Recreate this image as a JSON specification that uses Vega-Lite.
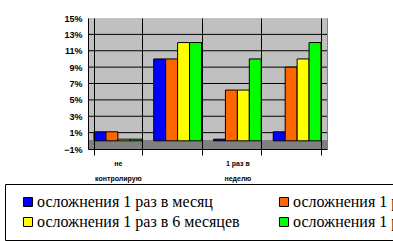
{
  "$schema": "https://vega.github.io/schema/vega-lite/v6.json",
  "autosize": "none",
  "width": 239,
  "height": 131,
  "padding": {"left": 88, "top": 18, "right": 66, "bottom": 92},
  "background": "white",
  "config": {
    "view": {"stroke": "#808080"},
    "axis": {"labelFont": "Liberation Sans", "labelFontWeight": "bold", "labelColor": "black", "domainColor": "black", "tickColor": "black", "gridColor": "black", "gridOpacity": 1, "gridWidth": 1, "title": null, "labelOverlap": false}
  },
  "datasets": {
    "bars": [
      {"cat": "не контролирую", "series": "осложнения 1 раз в месяц", "value": 0.011},
      {"cat": "не контролирую", "series": "осложнения 1 раз в 3 месяца", "value": 0.011},
      {"cat": "не контролирую", "series": "осложнения 1 раз в 6 месяцев", "value": 0.002},
      {"cat": "не контролирую", "series": "осложнения 1 раз в год", "value": 0.002},
      {"cat": "ежедневно", "series": "осложнения 1 раз в месяц", "value": 0.10},
      {"cat": "ежедневно", "series": "осложнения 1 раз в 3 месяца", "value": 0.10},
      {"cat": "ежедневно", "series": "осложнения 1 раз в 6 месяцев", "value": 0.12},
      {"cat": "ежедневно", "series": "осложнения 1 раз в год", "value": 0.12},
      {"cat": "1 раз в неделю", "series": "осложнения 1 раз в месяц", "value": 0.002},
      {"cat": "1 раз в неделю", "series": "осложнения 1 раз в 3 месяца", "value": 0.062},
      {"cat": "1 раз в неделю", "series": "осложнения 1 раз в 6 месяцев", "value": 0.062},
      {"cat": "1 раз в неделю", "series": "осложнения 1 раз в год", "value": 0.10},
      {"cat": "1 раз в месяц", "series": "осложнения 1 раз в месяц", "value": 0.011},
      {"cat": "1 раз в месяц", "series": "осложнения 1 раз в 3 месяца", "value": 0.09},
      {"cat": "1 раз в месяц", "series": "осложнения 1 раз в 6 месяцев", "value": 0.10},
      {"cat": "1 раз в месяц", "series": "осложнения 1 раз в год", "value": 0.12}
    ],
    "gridlines": [
      {"tick": 0.01}, {"tick": 0.03}, {"tick": 0.05}, {"tick": 0.07}, {"tick": 0.09}, {"tick": 0.11}, {"tick": 0.13}
    ]
  },
  "data": {"name": "bars"},
  "layer": [
    {
      "mark": {"type": "rect", "fill": "#C0C0C0"},
      "encoding": {
        "y": {
          "datum": -0.01, "type": "quantitative",
          "scale": {"domain": [-0.01, 0.15], "nice": false, "zero": false},
          "axis": {"values": [-0.01, 0.01, 0.03, 0.05, 0.07, 0.09, 0.11, 0.13, 0.15], "tickCount": 9, "format": ".0%", "labelFontSize": 9, "tickSize": 0, "labelPadding": 6, "labelOverlap": false, "grid": false, "domain": true, "zindex": 1}
        },
        "y2": {"datum": 0.15}
      }
    },
    {
      "mark": {"type": "rect", "fill": "#808080"},
      "encoding": {
        "y": {"datum": -0.01, "type": "quantitative"},
        "y2": {"datum": 0}
      }
    },
    {
      "data": {"name": "gridlines"},
      "mark": {"type": "rule", "color": "black", "strokeWidth": 1},
      "encoding": {
        "y": {"field": "tick", "type": "quantitative"}
      }
    },
    {
      "mark": {"type": "bar", "stroke": "black", "strokeWidth": 1},
      "encoding": {
        "x": {
          "field": "cat", "type": "nominal", "sort": null,
          "scale": {"paddingInner": 0.2, "paddingOuter": 0.1},
          "axis": {
            "labelAngle": 0, "labelFontSize": 7, "labelPadding": 4, "labelLineHeight": 15,
            "tickBand": "extent", "tickSize": 6, "grid": true, "gridColor": "black", "domain": true, "zindex": 1,
            "labelExpr": "datum.value == 'не контролирую' ? ['не', 'контролирую'] : datum.value == '1 раз в неделю' ? ['1 раз в', 'неделю'] : ''"
          }
        },
        "xOffset": {"field": "series", "type": "nominal", "sort": null},
        "y": {"field": "value", "type": "quantitative"},
        "y2": {"datum": 0},
        "color": {
          "field": "series", "type": "nominal", "sort": null,
          "scale": {"range": ["#0000FF", "#FF6600", "#FFFF00", "#00FF00"]},
          "legend": {
            "title": null, "orient": "none", "legendX": -83, "legendY": 166,
            "direction": "horizontal", "columns": 2, "columnPadding": 31, "rowPadding": 4,
            "labelFont": "Liberation Serif", "labelFontSize": 16, "labelColor": "black", "labelLimit": 400, "labelOffset": 1,
            "symbolType": "square", "symbolSize": 81, "symbolStrokeColor": "black", "symbolStrokeWidth": 1, "symbolOpacity": 1, "symbolOffset": 5,
            "strokeColor": "black", "padding": 10, "cornerRadius": 0
          }
        }
      }
    }
  ]
}
